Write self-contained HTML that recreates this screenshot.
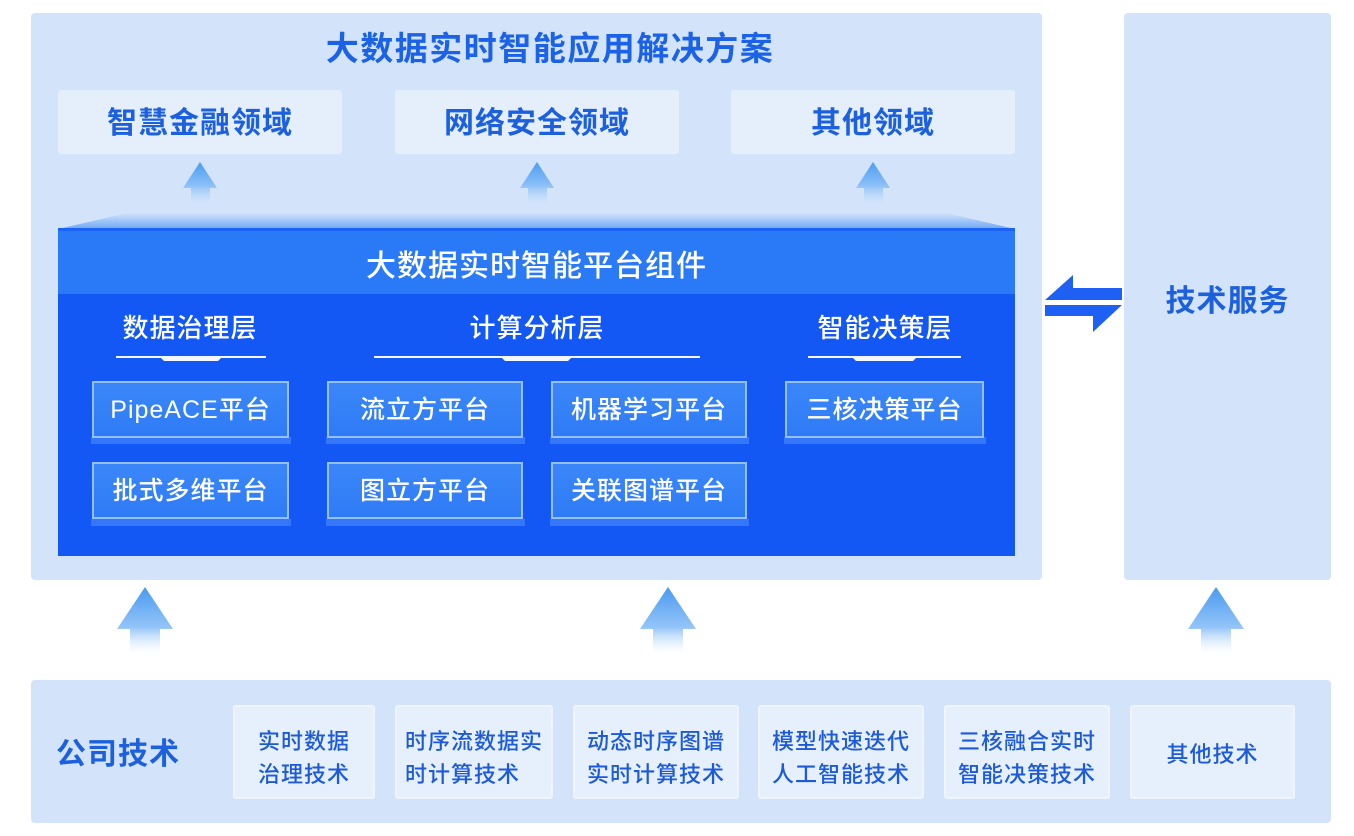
<!DOCTYPE html>
<html><head><meta charset="utf-8">
<style>
*{margin:0;padding:0;box-sizing:border-box}
body{width:1354px;height:836px;background:#fff;position:relative;overflow:hidden;font-family:"Liberation Sans","Noto Sans CJK SC",sans-serif}
.abs{position:absolute}
.panel{background:#d3e4fa;border-radius:4px}
.dom{position:absolute;top:90px;height:64px;background:#e5effc;border-radius:3px;color:#1d60de;font-weight:bold;font-size:30px;line-height:68px;text-align:center;letter-spacing:1px}
.ct{position:absolute;top:312px;color:#fff;font-size:26px;line-height:32px;text-align:center;width:240px;letter-spacing:1px;font-weight:500}
.btn{position:absolute;height:57px;border:2px solid rgba(165,203,255,0.85);background:linear-gradient(#3a86f8,#2f7bf6);color:#fff;font-size:25px;line-height:55px;text-align:center;letter-spacing:1px;font-weight:500}
.sh{position:absolute;height:7px;background:rgba(80,145,250,0.55)}
.tb{position:absolute;top:705px;height:94px;background:#e6f0fd;border:2px solid #eef5fe;border-radius:3px;color:#1d5ad8;font-size:22px;line-height:33px;letter-spacing:1px;display:flex;align-items:center;justify-content:center;padding-top:11px;font-weight:500}
.tb div{text-align:left}
</style></head><body>

<div class="abs panel" style="left:31px;top:13px;width:1011px;height:567px"></div>
<div class="abs panel" style="left:1124px;top:13px;width:207px;height:567px"></div>
<div class="abs panel" style="left:31px;top:680px;width:1300px;height:143px"></div>

<div class="abs" style="left:300px;top:30px;width:500px;text-align:center;color:#1b62e6;font-weight:bold;font-size:33px;line-height:38px;letter-spacing:1.5px">大数据实时智能应用解决方案</div>

<div class="dom" style="left:58px;width:284px">智慧金融领域</div>
<div class="dom" style="left:395px;width:284px">网络安全领域</div>
<div class="dom" style="left:731px;width:284px">其他领域</div>

<svg class="abs" style="left:0;top:0" width="1354" height="836">
<defs>
<linearGradient id="ga" x1="0" y1="0" x2="0" y2="1">
<stop offset="0" stop-color="#4c9cf2"/>
<stop offset="0.55" stop-color="#8cc0f7"/>
<stop offset="1" stop-color="#d3e4fa" stop-opacity="0.2"/>
</linearGradient>
<linearGradient id="gb" x1="0" y1="0" x2="0" y2="1">
<stop offset="0" stop-color="#4a9af1"/>
<stop offset="0.6" stop-color="#93c4f8"/>
<stop offset="1" stop-color="#ffffff" stop-opacity="0.3"/>
</linearGradient>
<linearGradient id="gt" x1="0" y1="0" x2="0" y2="1">
<stop offset="0" stop-color="#d6e6fb"/>
<stop offset="1" stop-color="#6fa8f6"/>
</linearGradient>
</defs>
<g fill="url(#ga)">
<polygon points="200,162 217,188 210,188 210,205 191,205 191,188 183,188"/>
<polygon points="537,162 554,188 547,188 547,205 528,205 528,188 520,188"/>
<polygon points="873,162 890,188 883,188 883,205 864,205 864,188 856,188"/>
</g>
<polygon points="132,212 942,212 1015,229 58,229" fill="url(#gt)"/>
<rect x="58" y="229" width="957" height="65" fill="#2a7af7"/>
<rect x="58" y="228" width="957" height="3" fill="#1a63f4"/>
<rect x="58" y="294" width="957" height="262" fill="#1357f5"/>
<g fill="#f2f7ff">
<rect x="116" y="356" width="150" height="2"/>
<polygon points="160,357 222,357 218,361 164,361"/>
<rect x="374" y="356" width="326" height="2"/>
<polygon points="501,357 572,357 568,361 505,361"/>
<rect x="808" y="356" width="153" height="2"/>
<polygon points="852,357 917,357 913,361 856,361"/>
</g>
<g fill="url(#gb)">
<polygon points="145,587 173,629 160,629 160,654 130,654 130,629 117,629"/>
<polygon points="668,587 696,629 683,629 683,654 653,654 653,629 640,629"/>
<polygon points="1216,587 1244,629 1231,629 1231,654 1201,654 1201,629 1188,629"/>
</g>
<g fill="#1f60f4">
<polygon points="1045,300 1073,275 1073,288 1122,288 1122,300"/>
<polygon points="1045,305 1122,305 1093,332 1093,316 1045,316"/>
</g>
</svg>

<div class="abs" style="left:58px;top:247px;width:957px;text-align:center;color:#fff;font-size:30px;line-height:40px;letter-spacing:1px;font-weight:500">大数据实时智能平台组件</div>

<div class="ct" style="left:70px">数据治理层</div>
<div class="ct" style="left:417px">计算分析层</div>
<div class="ct" style="left:765px">智能决策层</div>

<div class="sh" style="left:91px;top:437px;width:200px"></div>
<div class="sh" style="left:326px;top:437px;width:199px"></div>
<div class="sh" style="left:550px;top:437px;width:199px"></div>
<div class="sh" style="left:784px;top:437px;width:202px"></div>
<div class="sh" style="left:91px;top:519px;width:200px"></div>
<div class="sh" style="left:326px;top:519px;width:199px"></div>
<div class="sh" style="left:550px;top:519px;width:199px"></div>

<div class="btn" style="left:92px;top:381px;width:197px">PipeACE平台</div>
<div class="btn" style="left:327px;top:381px;width:196px">流立方平台</div>
<div class="btn" style="left:551px;top:381px;width:196px">机器学习平台</div>
<div class="btn" style="left:785px;top:381px;width:199px">三核决策平台</div>
<div class="btn" style="left:92px;top:462px;width:197px">批式多维平台</div>
<div class="btn" style="left:327px;top:462px;width:196px">图立方平台</div>
<div class="btn" style="left:551px;top:462px;width:196px">关联图谱平台</div>

<div class="abs" style="left:1124px;top:282px;width:207px;text-align:center;color:#1d60de;font-weight:bold;font-size:30px;line-height:40px;letter-spacing:1px">技术服务</div>

<div class="abs" style="left:56px;top:735px;width:130px;color:#1d60de;font-weight:bold;font-size:30px;line-height:40px;letter-spacing:1px">公司技术</div>

<div class="tb" style="left:233px;width:142px"><div>实时数据<br>治理技术</div></div>
<div class="tb" style="left:395px;width:158px"><div>时序流数据实<br>时计算技术</div></div>
<div class="tb" style="left:573px;width:166px"><div>动态时序图谱<br>实时计算技术</div></div>
<div class="tb" style="left:758px;width:166px"><div>模型快速迭代<br>人工智能技术</div></div>
<div class="tb" style="left:944px;width:166px"><div>三核融合实时<br>智能决策技术</div></div>
<div class="tb" style="left:1130px;width:165px;padding-top:4px"><div>其他技术</div></div>

</body></html>
